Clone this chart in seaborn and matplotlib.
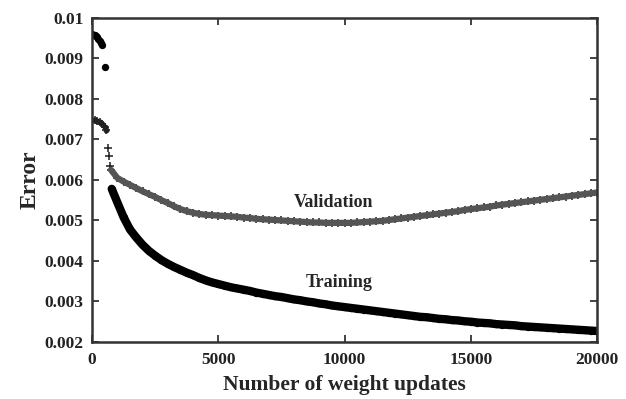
import numpy as np
import pandas as pd
import seaborn as sns
import matplotlib.pyplot as plt

# values
train_x = [0, 50, 100, 150, 200, 250, 300, 350, 400, 500,
           780, 1000, 1250, 1500, 1750, 2000, 2250, 2500, 2750, 3000,
           3250, 3500, 3750, 4000, 4250, 4500, 4750, 5000, 5250, 5500,
           5750, 6000, 6250, 6500, 6750, 7000, 7250, 7500, 7750, 8000,
           8250, 8500, 8750, 9000, 9250, 9500, 9750, 10000, 10250, 10500,
           10750, 11000, 11250, 11500, 11750, 12000, 12250, 12500, 12750, 13000,
           13250, 13500, 13750, 14000, 14250, 14500, 14750, 15000, 15250, 15500,
           15750, 16000, 16250, 16500, 16750, 17000, 17250, 17500, 17750, 18000,
           18250, 18500, 18750, 19000, 19250, 19500, 19750, 20000]
train_err = [0.00960, 0.00959, 0.00957, 0.00955, 0.00952, 0.00948, 0.00943, 0.00938, 0.00934, 0.00880,
             0.00578, 0.00545, 0.00508, 0.00478, 0.00458, 0.00440, 0.00425, 0.00413, 0.00402, 0.00393,
             0.00385, 0.00378, 0.00371, 0.00365, 0.00358, 0.00352, 0.00347, 0.00343, 0.00339, 0.00335,
             0.00332, 0.00329, 0.00326, 0.00322, 0.00319, 0.00316, 0.00313, 0.00311, 0.00308, 0.00305,
             0.00303, 0.00300, 0.00298, 0.00295, 0.00293, 0.00290, 0.00288, 0.00286, 0.00284, 0.00282,
             0.00280, 0.00278, 0.00276, 0.00274, 0.00272, 0.00270, 0.00268, 0.00266, 0.00264, 0.00262,
             0.00261, 0.00259, 0.00257, 0.00256, 0.00254, 0.00253, 0.00251, 0.00250, 0.00248, 0.00247,
             0.00246, 0.00244, 0.00243, 0.00242, 0.00241, 0.00239, 0.00238, 0.00237, 0.00236, 0.00235,
             0.00234, 0.00233, 0.00232, 0.00231, 0.00230, 0.00229, 0.00228, 0.00227]

valid_x = [0, 100, 200, 300, 400, 500, 550, 620, 660, 700,
           750, 1000, 1250, 1500, 1750, 2000, 2250, 2500, 2750, 3000,
           3250, 3500, 3750, 4000, 4250, 4500, 4750, 5000, 5250, 5500,
           5750, 6000, 6250, 6500, 6750, 7000, 7250, 7500, 7750, 8000,
           8250, 8500, 8750, 9000, 9250, 9500, 9750, 10000, 10250, 10500,
           10750, 11000, 11250, 11500, 11750, 12000, 12250, 12500, 12750, 13000,
           13250, 13500, 13750, 14000, 14250, 14500, 14750, 15000, 15250, 15500,
           15750, 16000, 16250, 16500, 16750, 17000, 17250, 17500, 17750, 18000,
           18250, 18500, 18750, 19000, 19250, 19500, 19750, 20000]
valid_err = [0.00748, 0.00747, 0.00745, 0.00742, 0.00738, 0.00730, 0.00724, 0.00680, 0.00660, 0.00635,
             0.00625, 0.00605, 0.00596, 0.00588, 0.00580, 0.00572, 0.00565, 0.00558, 0.00550, 0.00543,
             0.00535, 0.00528, 0.00523, 0.00519, 0.00516, 0.00514, 0.00513, 0.00512, 0.00511, 0.00510,
             0.00509, 0.00507, 0.00506, 0.00504, 0.00503, 0.00502, 0.00501, 0.00500, 0.00499, 0.00498,
             0.00497, 0.00496, 0.00495, 0.00495, 0.00494, 0.00494, 0.00494, 0.00494, 0.00494, 0.00495,
             0.00496, 0.00497, 0.00498, 0.00499, 0.00501, 0.00503, 0.00505, 0.00507, 0.00509, 0.00511,
             0.00513, 0.00515, 0.00517, 0.00519, 0.00521, 0.00523, 0.00526, 0.00528, 0.00530, 0.00532,
             0.00534, 0.00537, 0.00539, 0.00541, 0.00543, 0.00545, 0.00547, 0.00549, 0.00551, 0.00553,
             0.00555, 0.00557, 0.00559, 0.00561, 0.00563, 0.00565, 0.00567, 0.00569]

x_ticks = [0, 5000, 10000, 15000, 20000]
y_ticks = [0.002, 0.003, 0.004, 0.005, 0.006, 0.007, 0.008, 0.009, 0.01]
y_labels = ['0.002', '0.003', '0.004', '0.005', '0.006', '0.007', '0.008', '0.009', '0.01']

sns.set_style("ticks")
plt.rcParams['font.family'] = ['Liberation Serif', 'DejaVu Serif']
plt.rcParams['font.weight'] = 'bold'

train = pd.DataFrame({'updates': train_x, 'error': train_err})
valid = pd.DataFrame({'updates': valid_x, 'error': valid_err})
train_dense = train[train['updates'] >= 780]
valid_dense = valid[valid['updates'] >= 750]

fig = plt.figure(figsize=(6.26, 3.99), dpi=100)
ax = fig.add_axes([0.147, 0.143, 0.807, 0.812])

# validation: grey band of "+" marks
sns.lineplot(data=valid_dense, x='updates', y='error', color='#555555',
             linewidth=4.5, sort=False, ax=ax)
sns.scatterplot(data=valid, x='updates', y='error', marker='+', s=30,
                color='#1e1e1e', linewidth=1.1, ax=ax)
sns.scatterplot(data=valid[valid['updates'] <= 550], x='updates', y='error',
                marker='o', s=18, color='#222222', linewidth=0, ax=ax)

# training: thick black band of dots
sns.lineplot(data=train_dense, x='updates', y='error', color='black',
             linewidth=6.0, sort=False, ax=ax)
sns.scatterplot(data=train, x='updates', y='error', marker='o', s=28,
                color='black', linewidth=0, ax=ax)

ax.text(9545, 0.00545, 'Validation', ha='center', va='center',
        fontsize=13, fontweight='bold')
ax.text(9780, 0.00348, 'Training', ha='center', va='center',
        fontsize=13, fontweight='bold')

ax.set_xlim(0, 20000)
ax.set_ylim(0.002, 0.01)
ax.set_xticks(x_ticks)
ax.set_xticklabels([str(t) for t in x_ticks])
ax.set_yticks(y_ticks)
ax.set_yticklabels(y_labels)
ax.tick_params(direction='in', length=5, width=1.2, top=True, right=True,
               labelsize=12.5, colors='#222222', pad=6)
ax.tick_params(axis='x', pad=7)
for lab in ax.get_xticklabels() + ax.get_yticklabels():
    lab.set_fontweight('bold')
for sp in ax.spines.values():
    sp.set_visible(True)
    sp.set_linewidth(1.8)
    sp.set_color('#333333')

ax.set_xlabel('Number of weight updates', fontsize=15.5, fontweight='bold', labelpad=5)
ax.set_ylabel('Error', fontsize=17, fontweight='bold', labelpad=3)

fig.savefig('out.png', dpi=100)
